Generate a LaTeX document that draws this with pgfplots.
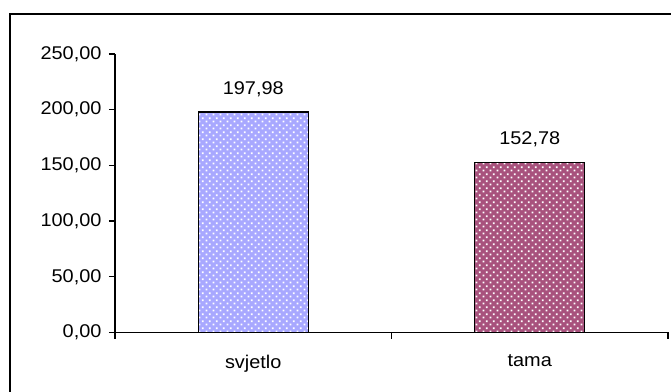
\documentclass[border=0pt]{standalone}
\usepackage{fontspec}
\setmainfont{Liberation Sans}
\usepackage{pgfplots}
\pgfplotsset{compat=1.18}
\usetikzlibrary{patterns}
\definecolor{lightbar}{HTML}{9999FF}
\definecolor{darkbar}{HTML}{993366}
% checkered white dots laid over the bar colour
\pgfdeclarepatternformonly{dotgrid}{\pgfpointorigin}{\pgfqpoint{6.6bp}{6.6bp}}{\pgfqpoint{6.6bp}{6.6bp}}{%
  \pgfpathrectangle{\pgfqpoint{0.75bp}{0.75bp}}{\pgfqpoint{1.8bp}{1.8bp}}%
  \pgfpathrectangle{\pgfqpoint{4.05bp}{4.05bp}}{\pgfqpoint{1.8bp}{1.8bp}}%
  \pgfusepath{fill}}
\newcommand{\lbl}[1]{\scalebox{1.08}[1]{#1}}
\begin{document}
\begin{tikzpicture}
\path[use as bounding box] (0,0) rectangle (671bp,392bp);
% chart frame
\draw[line width=2bp] (10bp,-5bp) -- (10bp,378bp) -- (690bp,378bp);
\begin{axis}[
  at={(115bp,59.5bp)}, anchor=south west,
  scale only axis, width=553bp, height=278.5bp,
  xmin=-0.5, xmax=1.5, ymin=0, ymax=250,
  axis x line*=bottom, axis y line*=left,
  axis line style={line width=1.2bp},
  every tick/.style={black, line width=1.2bp},
  tick align=outside, major tick length=6bp,
  xtick={-0.5,0.5,1.5}, xticklabels={},
  extra x ticks={0,1}, extra x tick labels={\lbl{svjetlo},\lbl{tama}},
  extra x tick style={major tick length=0pt},
  ytick={0,50,100,150,200,250},
  yticklabel={\lbl{\pgfmathprintnumber{\tick}}},
  /pgf/number format/.cd, use comma, fixed, fixed zerofill, precision=2, assume math mode=true, /pgfplots/.cd,
  tick label style={font=\fontsize{18.5}{21}\selectfont},
  yticklabel style={xshift=-4bp},
  xticklabel style={yshift=-19bp},
  ybar, bar width=110bp, bar shift=0pt,
  nodes near coords={\lbl{\pgfmathprintnumber{\pgfplotspointmeta}}},
  nodes near coords style={font=\fontsize{18.5}{21}\selectfont, yshift=11bp},
  point meta=y,
  clip=false,
]
\addplot[draw=black, line width=1.3bp, fill=lightbar!85!white,
  postaction={pattern=dotgrid, pattern color=white}]
  coordinates {(0,197.98)};
\addplot[draw=black, line width=1.3bp, fill=darkbar!85!white,
  postaction={pattern=dotgrid, pattern color=white}]
  coordinates {(1,152.78)};
\end{axis}
\end{tikzpicture}
\end{document}
